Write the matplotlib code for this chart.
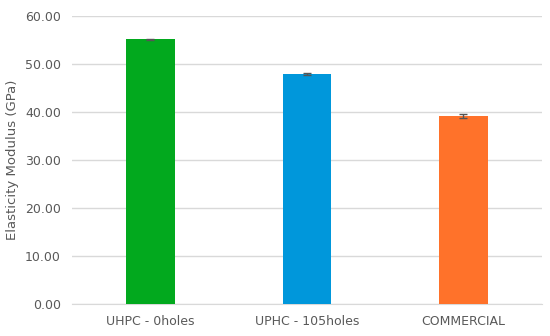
import matplotlib.pyplot as plt

# bar data
categories = ["UHPC - 0holes", "UPHC - 105holes", "COMMERCIAL"]
modulus = [55.2, 47.9, 39.2]
errors = [0.1, 0.15, 0.5]
colors = ["#02A91E", "#0097DB", "#FF722A"]

fig = plt.figure(figsize=(5.5, 3.36), dpi=100)
ax = fig.add_axes([0.131, 0.095, 0.854, 0.857])

x = range(len(categories))
ax.bar(x, modulus, width=0.31, color=colors, zorder=3,
       yerr=errors, error_kw={"ecolor": "#555555", "capsize": 3, "elinewidth": 1, "capthick": 1})

ax.set_xlim(-0.5, 2.5)
ax.set_ylim(0, 60)
ax.set_yticks(range(0, 61, 10))
ax.set_yticklabels([f"{v:.2f}" for v in range(0, 61, 10)])
ax.set_xticks(list(x))
ax.set_xticklabels(categories)
ax.grid(axis="y", color="#D9D9D9", lw=1, zorder=0)
for s in ["top", "right", "left"]:
    ax.spines[s].set_visible(False)
ax.spines["bottom"].set_color("#D9D9D9")
ax.tick_params(length=0, colors="#595959", labelsize=9, pad=8)
ax.set_ylabel("Elasticity Modulus (GPa)", color="#595959", fontsize=9.5)

fig.savefig("out.png")
